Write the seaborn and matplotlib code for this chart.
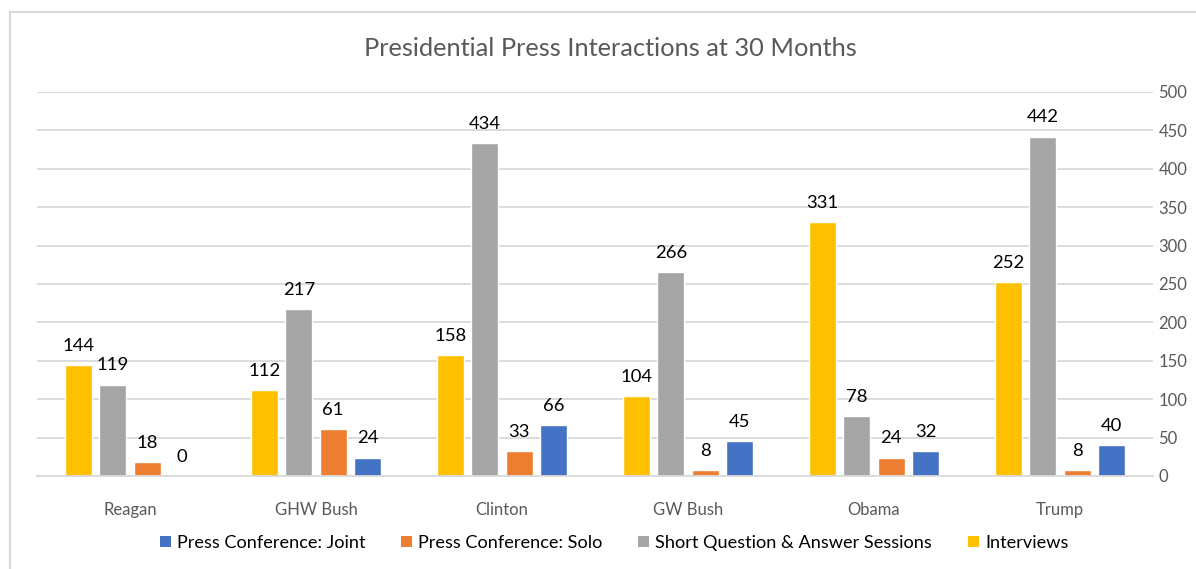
import matplotlib
matplotlib.use("Agg")
import matplotlib.pyplot as plt
from matplotlib.patches import Rectangle, Patch
import seaborn as sns
import pandas as pd

presidents = ["Reagan", "GHW Bush", "Clinton", "GW Bush", "Obama", "Trump"]
interviews = [144, 112, 158, 104, 331, 252]
short_qa = [119, 217, 434, 266, 78, 442]
pc_solo = [18, 61, 33, 8, 24, 8]
pc_joint = [0, 24, 66, 45, 32, 40]
series_names = ["Interviews", "Short Question & Answer Sessions",
                "Press Conference: Solo", "Press Conference: Joint"]
legend_order = ["Press Conference: Joint", "Press Conference: Solo",
                "Short Question & Answer Sessions", "Interviews"]
colors = {"Interviews": "#FFC000",
          "Short Question & Answer Sessions": "#A5A5A5",
          "Press Conference: Solo": "#ED7D31",
          "Press Conference: Joint": "#4472C4"}
yticks = list(range(0, 501, 50))
title = "Presidential Press Interactions at 30 Months"

rows = []
for name, vals in zip(series_names, [interviews, short_qa, pc_solo, pc_joint]):
    for p, v in zip(presidents, vals):
        rows.append({"President": p, "Type": name, "Count": v})
df = pd.DataFrame(rows)

sns.set_style("white")
plt.rcParams["font.family"] = ["Lato", "DejaVu Sans"]

W, H = 1196, 569
fig = plt.figure(figsize=(W / 100, H / 100), dpi=100)
ax = fig.add_axes([37 / W, (H - 476) / H, (1153 - 37) / W, (476 - 92) / H])

sns.barplot(data=df, x="President", y="Count", hue="Type", hue_order=series_names,
            order=presidents, palette=colors, width=0.74, gap=0.22,
            ax=ax, legend=False, saturation=1)

ax.set_ylim(0, 500)
ax.set_yticks(yticks)
ax.yaxis.tick_right()
ax.set_xlabel("")
ax.set_ylabel("")
ax.grid(axis="y", color="#D9D9D9", linewidth=1.3)
ax.set_axisbelow(True)
for s in ["top", "right", "left"]:
    ax.spines[s].set_visible(False)
ax.spines["bottom"].set_color("#D9D9D9")
ax.spines["bottom"].set_linewidth(1.3)
ax.tick_params(axis="both", length=0, labelsize=12, labelcolor="#595959")
ax.tick_params(axis="x", pad=19)
ax.tick_params(axis="y", pad=4)

for cont in ax.containers:
    ax.bar_label(cont, fmt="%d", padding=8, fontsize=13.3, color="#000000")

fig.text((363 + 857) / 2 / W, 1 - 48 / H, title, ha="center", va="center",
         fontsize=18.3, color="#595959")

handles = [Patch(facecolor=colors[n], edgecolor="none") for n in legend_order]
fig.legend(handles, legend_order, loc="center", ncol=4,
           bbox_to_anchor=(614 / W, 1 - 543 / H), frameon=False,
           fontsize=13.1, handlelength=0.6, handleheight=0.6,
           handletextpad=0.35, columnspacing=1.95, labelcolor="#000000")

fig.patches.append(Rectangle((10 / W, -0.05), 1.1, (H - 12) / H + 0.05,
                             transform=fig.transFigure, fill=False,
                             edgecolor="#D9D9D9", linewidth=1.5, zorder=-1))

fig.savefig("out.png", dpi=100, facecolor="white")
